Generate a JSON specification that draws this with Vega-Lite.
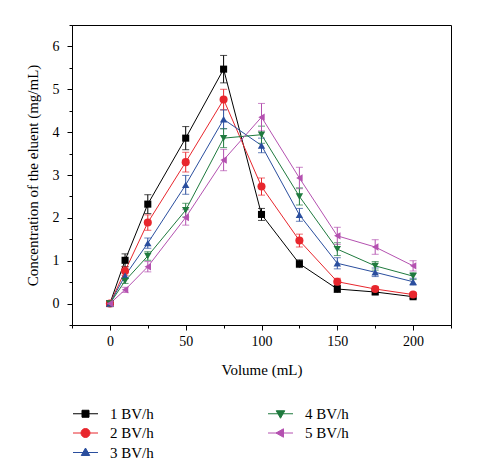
{
  "$schema": "https://vega.github.io/schema/vega-lite/v6.json",
  "width": 379,
  "height": 300,
  "autosize": "none",
  "padding": {"left": 72, "top": 25, "right": 27, "bottom": 145},
  "background": "white",
  "config": {
    "font": "Liberation Serif",
    "view": {"stroke": "#000", "strokeWidth": 1},
    "axis": {
      "domainColor": "#000", "tickColor": "#000", "labelColor": "#000", "titleColor": "#000",
      "labelFont": "Liberation Serif", "titleFont": "Liberation Serif",
      "labelFontSize": 14, "titleFontSize": 15, "titleFontWeight": "normal",
      "grid": false, "domainWidth": 1, "tickWidth": 1
    },
    "legend": {
      "orient": "none", "legendX": 6, "legendY": 381,
      "columns": 2, "columnPadding": 112, "rowPadding": 3.5,
      "padding": 0, "symbolSize": 100, "labelOffset": 17,
      "labelFont": "Liberation Serif", "labelFontSize": 15, "labelColor": "#000",
      "symbolOpacity": 1, "symbolStrokeWidth": 1
    }
  },
  "data": {"values": [
    {"series": "1 BV/h", "volume": 0, "conc": 0, "err": 0.02},
    {"series": "1 BV/h", "volume": 10, "conc": 1.01, "err": 0.15},
    {"series": "1 BV/h", "volume": 25, "conc": 2.32, "err": 0.22},
    {"series": "1 BV/h", "volume": 50, "conc": 3.86, "err": 0.27},
    {"series": "1 BV/h", "volume": 75, "conc": 5.47, "err": 0.32},
    {"series": "1 BV/h", "volume": 100, "conc": 2.08, "err": 0.14},
    {"series": "1 BV/h", "volume": 125, "conc": 0.93, "err": 0.09},
    {"series": "1 BV/h", "volume": 150, "conc": 0.34, "err": 0.08},
    {"series": "1 BV/h", "volume": 175, "conc": 0.27, "err": 0.05},
    {"series": "1 BV/h", "volume": 200, "conc": 0.16, "err": 0.04},
    {"series": "2 BV/h", "volume": 0, "conc": 0, "err": 0.02},
    {"series": "2 BV/h", "volume": 10, "conc": 0.76, "err": 0.1},
    {"series": "2 BV/h", "volume": 25, "conc": 1.89, "err": 0.18},
    {"series": "2 BV/h", "volume": 50, "conc": 3.3, "err": 0.23},
    {"series": "2 BV/h", "volume": 75, "conc": 4.76, "err": 0.24},
    {"series": "2 BV/h", "volume": 100, "conc": 2.73, "err": 0.2},
    {"series": "2 BV/h", "volume": 125, "conc": 1.47, "err": 0.15},
    {"series": "2 BV/h", "volume": 150, "conc": 0.51, "err": 0.08},
    {"series": "2 BV/h", "volume": 175, "conc": 0.34, "err": 0.06},
    {"series": "2 BV/h", "volume": 200, "conc": 0.21, "err": 0.05},
    {"series": "3 BV/h", "volume": 0, "conc": 0, "err": 0.02},
    {"series": "3 BV/h", "volume": 10, "conc": 0.65, "err": 0.07},
    {"series": "3 BV/h", "volume": 25, "conc": 1.41, "err": 0.12},
    {"series": "3 BV/h", "volume": 50, "conc": 2.77, "err": 0.22},
    {"series": "3 BV/h", "volume": 75, "conc": 4.3, "err": 0.22},
    {"series": "3 BV/h", "volume": 100, "conc": 3.69, "err": 0.17},
    {"series": "3 BV/h", "volume": 125, "conc": 2.07, "err": 0.15},
    {"series": "3 BV/h", "volume": 150, "conc": 0.94, "err": 0.13},
    {"series": "3 BV/h", "volume": 175, "conc": 0.73, "err": 0.1},
    {"series": "3 BV/h", "volume": 200, "conc": 0.51, "err": 0.08},
    {"series": "4 BV/h", "volume": 0, "conc": 0, "err": 0.02},
    {"series": "4 BV/h", "volume": 10, "conc": 0.53, "err": 0.06},
    {"series": "4 BV/h", "volume": 25, "conc": 1.11, "err": 0.1},
    {"series": "4 BV/h", "volume": 50, "conc": 2.18, "err": 0.16},
    {"series": "4 BV/h", "volume": 75, "conc": 3.86, "err": 0.22},
    {"series": "4 BV/h", "volume": 100, "conc": 3.94, "err": 0.2},
    {"series": "4 BV/h", "volume": 125, "conc": 2.5, "err": 0.2},
    {"series": "4 BV/h", "volume": 150, "conc": 1.27, "err": 0.15},
    {"series": "4 BV/h", "volume": 175, "conc": 0.88, "err": 0.1},
    {"series": "4 BV/h", "volume": 200, "conc": 0.64, "err": 0.08},
    {"series": "5 BV/h", "volume": 0, "conc": 0, "err": 0.02},
    {"series": "5 BV/h", "volume": 10, "conc": 0.32, "err": 0.06},
    {"series": "5 BV/h", "volume": 25, "conc": 0.86, "err": 0.12},
    {"series": "5 BV/h", "volume": 50, "conc": 2.01, "err": 0.18},
    {"series": "5 BV/h", "volume": 75, "conc": 3.35, "err": 0.25},
    {"series": "5 BV/h", "volume": 100, "conc": 4.35, "err": 0.32},
    {"series": "5 BV/h", "volume": 125, "conc": 2.93, "err": 0.25},
    {"series": "5 BV/h", "volume": 150, "conc": 1.58, "err": 0.2},
    {"series": "5 BV/h", "volume": 175, "conc": 1.32, "err": 0.17},
    {"series": "5 BV/h", "volume": 200, "conc": 0.88, "err": 0.12}
  ]},
  "encoding": {
    "x": {
      "field": "volume", "type": "quantitative",
      "scale": {"domain": [-25, 225], "nice": false, "zero": false},
      "axis": {
        "title": "Volume (mL)",
        "values": [-25, 0, 25, 50, 75, 100, 125, 150, 175, 200, 225],
        "labelExpr": "datum.value % 50 === 0 ? '' + datum.value : ''",
        "tickSize": {"condition": {"test": "datum.value % 50 === 0", "value": 5}, "value": 3},
        "labelPadding": 4,
        "titlePadding": 14
      }
    },
    "y": {
      "field": "conc", "type": "quantitative",
      "scale": {"domain": [-0.5, 6.5], "nice": false, "zero": false},
      "axis": {
        "title": "Concentration of the eluent (mg/mL)",
        "values": [-0.5, 0, 0.5, 1, 1.5, 2, 2.5, 3, 3.5, 4, 4.5, 5, 5.5, 6, 6.5],
        "labelExpr": "datum.value % 1 === 0 ? '' + datum.value : ''",
        "tickSize": {"condition": {"test": "datum.value % 1 === 0", "value": 5}, "value": 3},
        "labelPadding": 8,
        "titlePadding": 12
      }
    },
    "color": {
      "field": "series", "type": "nominal",
      "scale": {
        "domain": ["1 BV/h", "2 BV/h", "3 BV/h", "4 BV/h", "5 BV/h"],
        "range": ["#000000", "#e8262d", "#2a4e9e", "#1f7a3e", "#b451b0"]
      },
      "legend": {"title": null}
    }
  },
  "layer": [
    {"mark": {"type": "line", "strokeWidth": 1}},
    {"mark": {"type": "errorbar", "ticks": true, "size": 7, "thickness": 1}, "encoding": {"yError": {"field": "err"}}},
    {
      "mark": {"type": "point", "filled": true, "size": 100, "opacity": 0},
      "encoding": {
        "shape": {
          "field": "series", "type": "nominal",
          "scale": {
            "domain": ["1 BV/h", "2 BV/h", "3 BV/h", "4 BV/h", "5 BV/h"],
            "range": [
              "M-2.5,0H2.5M-0.7,-0.7H0.7V0.7H-0.7Z",
              "M-2.5,0H2.5M0.9,0A0.9,0.9,0,1,1,-0.9,0A0.9,0.9,0,1,1,0.9,0Z",
              "M-2.5,0H2.5M0,-0.9L0.85,0.6L-0.85,0.6Z",
              "M-2.5,0H2.5M0,0.9L0.85,-0.6L-0.85,-0.6Z",
              "M-2.5,0H2.5M-0.9,0L0.6,-0.85L0.6,0.85Z"
            ]
          },
          "legend": {"title": null}
        }
      }
    },
    {"transform": [{"filter": "datum.series === '1 BV/h'"}], "mark": {"type": "point", "filled": true, "shape": "square", "size": 50, "opacity": 1}},
    {"transform": [{"filter": "datum.series === '2 BV/h'"}], "mark": {"type": "point", "filled": true, "shape": "circle", "size": 65, "opacity": 1}},
    {"transform": [{"filter": "datum.series === '3 BV/h'"}], "mark": {"type": "point", "filled": true, "shape": "triangle-up", "size": 55, "opacity": 1}},
    {"transform": [{"filter": "datum.series === '4 BV/h'"}], "mark": {"type": "point", "filled": true, "shape": "triangle-down", "size": 55, "opacity": 1}},
    {"transform": [{"filter": "datum.series === '5 BV/h'"}], "mark": {"type": "point", "filled": true, "shape": "triangle-left", "size": 55, "opacity": 1}}
  ]
}
